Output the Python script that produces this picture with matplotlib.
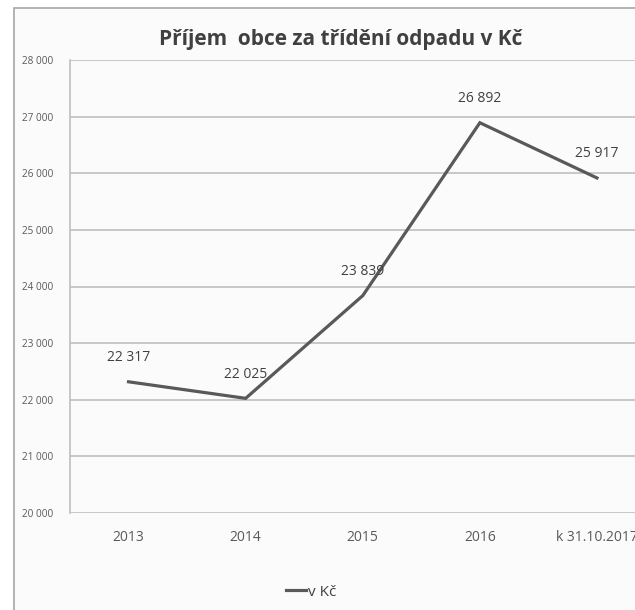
import numpy as np
import matplotlib.pyplot as plt
from matplotlib.patches import Rectangle
from matplotlib.lines import Line2D
from matplotlib.ticker import FuncFormatter

plt.rcParams['font.family'] = ['Open Sans', 'DejaVu Sans']

# data
categories = ['2013', '2014', '2015', '2016', 'k 31.10.2017']
values = [22317, 22025, 23839, 26892, 25917]
series_name = 'v Kč'
title = 'Příjem  obce za třídění odpadu v Kč'

W, H = 635, 610
fig = plt.figure(figsize=(W / 100, H / 100), dpi=100)
fig.patch.set_facecolor('white')

# outer chart frame (cropped on the right and bottom, like the source)
frame = Rectangle((14 / W, -0.01), 1.0, (H - 8) / H + 0.01, transform=fig.transFigure,
                  facecolor='#fbfbfb', edgecolor='#a6a6a6', linewidth=1.2, zorder=-1)
fig.patches.append(frame)

ax = fig.add_axes([70 / W, (H - 513) / H, (W - 70) / W, (513 - 60) / H])
ax.set_zorder(1)
ax.set_facecolor('none')

x = np.arange(len(categories))
ax.plot(x, values, color='#595959', linewidth=2.3, solid_joinstyle='miter', zorder=3)

for xi, v in zip(x, values):
    ax.annotate(f'{v:,}'.replace(',', ' '), (xi, v), xytext=(0, 12),
                textcoords='offset points', ha='center', va='bottom',
                fontsize=10, color='#404040', zorder=4)

ax.set_ylim(20000, 28000)
ax.set_yticks(np.arange(20000, 28001, 1000))
ax.yaxis.set_major_formatter(FuncFormatter(lambda v, p: f'{int(v):,}'.replace(',', ' ')))
ax.set_xlim(-0.5, 4 + (635 - 597) / 117)
ax.set_xticks(x)
ax.set_xticklabels(categories)

ax.grid(axis='y', color='#c0c0c0', linewidth=1.2)
ax.set_axisbelow(True)
for s in ['top', 'right', 'bottom']:
    ax.spines[s].set_visible(False)
ax.spines['left'].set_color('#c0c0c0')
ax.spines['left'].set_linewidth(1.2)
ax.tick_params(axis='y', length=0, pad=12, labelsize=7.2, labelcolor='#595959')
ax.tick_params(axis='x', length=0, pad=12, labelsize=10, labelcolor='#595959')

fig.text(341 / W, 1 - 39 / H, title, ha='center', va='center',
         fontsize=15, fontweight='bold', color='#404040')

# legend
handle = Line2D([], [], color='#595959', linewidth=2.3)
fig.legend([handle], [series_name], loc='center', bbox_to_anchor=(311 / W, 1 - 592 / H),
           frameon=False, fontsize=11, handlelength=1.3, handletextpad=0.1,
           labelcolor='#404040')

fig.savefig('out.png', dpi=100, facecolor=fig.get_facecolor())
